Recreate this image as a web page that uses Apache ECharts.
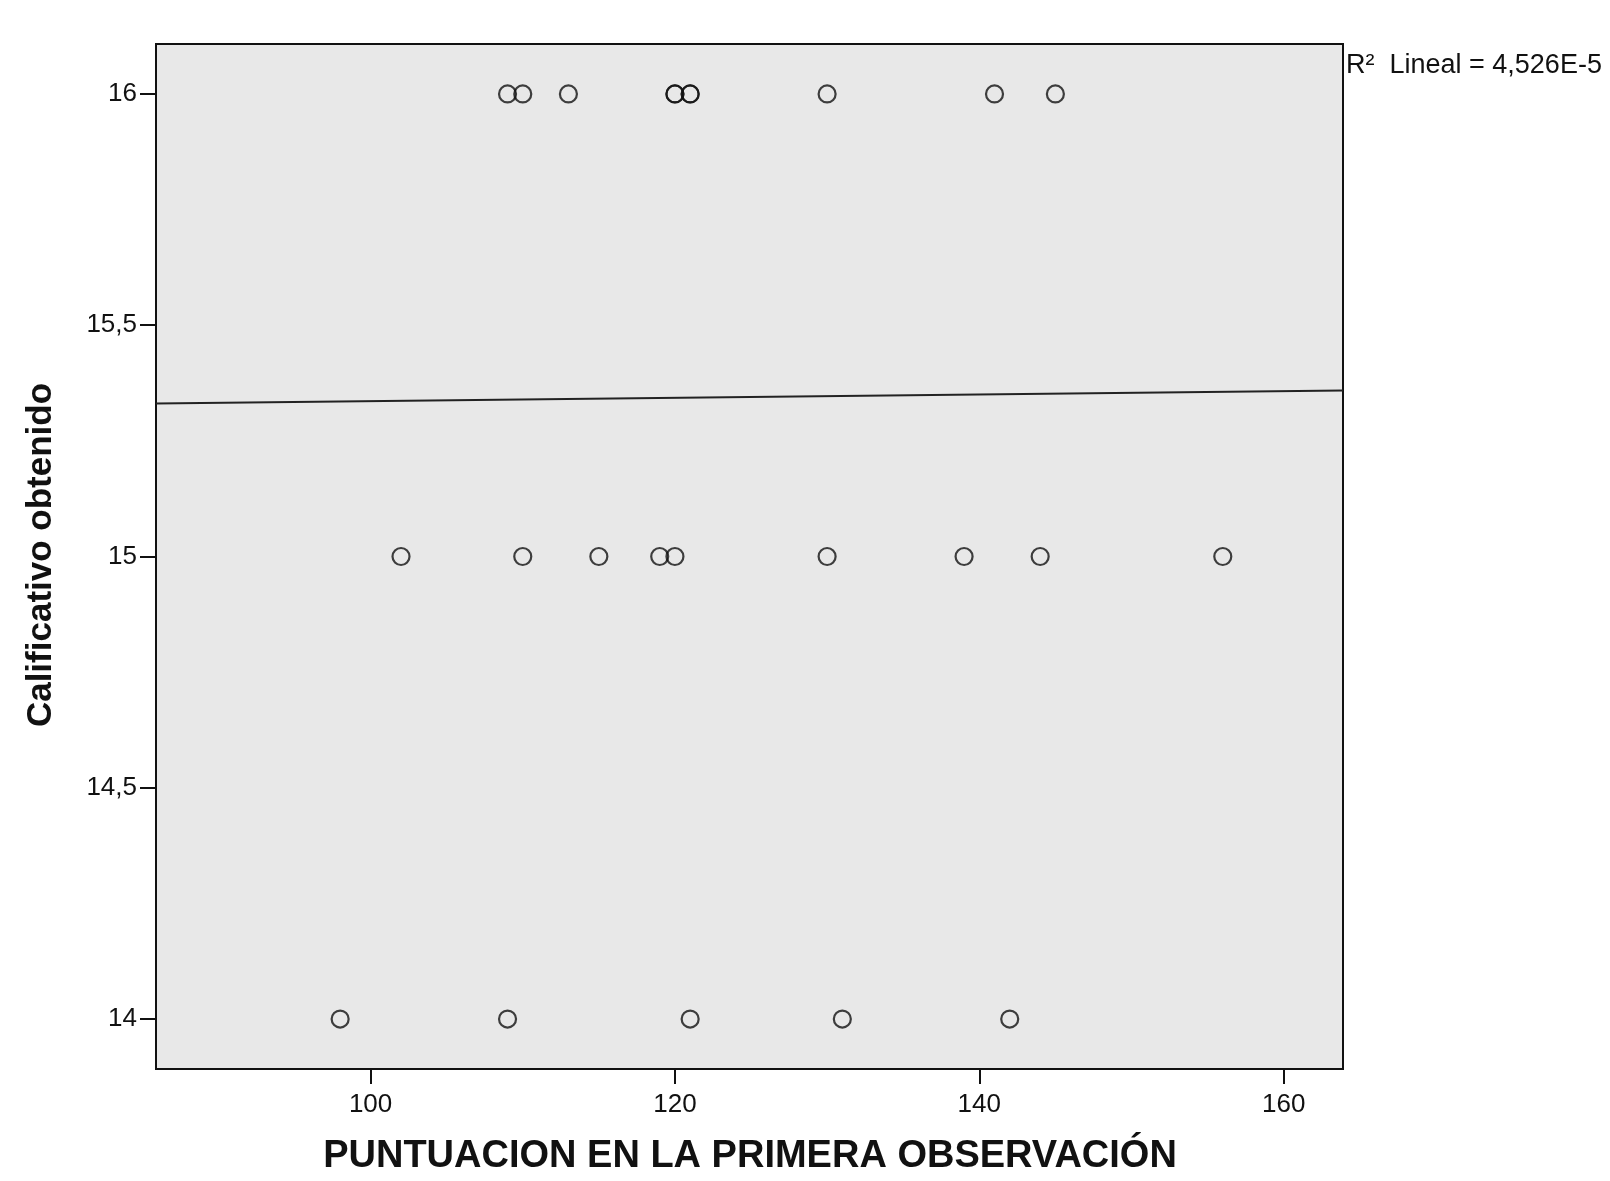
<!DOCTYPE html>
<html>
<head>
<meta charset="utf-8">
<script src="https://cdn.jsdelivr.net/npm/echarts@6/dist/echarts.min.js"></script>
<style>
html,body{margin:0;padding:0;background:#fff;}
#chart{width:1610px;height:1181px;}
</style>
</head>
<body>
<div id="chart"></div>
<script>
// Data (x: puntuación, y: calificativo)
const xGrade16 = [109, 110, 113, 120, 120, 121, 121, 130, 141, 145];
const xGrade15 = [102, 110, 115, 119, 120, 130, 139, 144, 156];
const xGrade14 = [98, 109, 121, 131, 142];
// Fit line endpoints
const fitX = [85.9, 163.9];
const fitY = [15.331, 15.359];
// Axis ticks
const xTicks = [100, 120, 140, 160];
const yTicks = [14, 14.5, 15, 15.5, 16];
const xRange = [85.9, 163.9];
const yRange = [13.892, 16.108];
const r2Text = 'R\u00B2  Lineal = 4,526E-5';
const xTitle = 'PUNTUACION EN LA PRIMERA OBSERVACIÓN';
const yTitle = 'Calificativo obtenido';

const points = []
  .concat(xGrade16.map(x => [x, 16]))
  .concat(xGrade15.map(x => [x, 15]))
  .concat(xGrade14.map(x => [x, 14]));

const chart = echarts.init(document.getElementById('chart'), null, {renderer: 'canvas'});
const font = 'Liberation Sans, Arial, sans-serif';
chart.setOption({
  animation: false,
  backgroundColor: '#ffffff',
  grid: {
    left: 156, right: 267, top: 44, bottom: 112,
    show: true, backgroundColor: '#e8e8e8', borderColor: '#111', borderWidth: 2
  },
  xAxis: {
    type: 'value', min: xRange[0], max: xRange[1],
    splitLine: {show: false},
    axisLine: {show: true, onZero: false, lineStyle: {color: '#111', width: 2}},
    axisTick: {show: true, inside: false, length: 15, customValues: xTicks, lineStyle: {color: '#111', width: 2}},
    axisLabel: {customValues: xTicks, margin: 23, color: '#111', fontSize: 26, fontFamily: font}
  },
  yAxis: {
    type: 'value', min: yRange[0], max: yRange[1],
    splitLine: {show: false},
    axisLine: {show: true, onZero: false, lineStyle: {color: '#111', width: 2}},
    axisTick: {show: true, inside: false, length: 16, customValues: yTicks, lineStyle: {color: '#111', width: 2}},
    axisLabel: {customValues: yTicks, margin: 19, color: '#111', fontSize: 26, fontFamily: font,
      formatter: v => String(v).replace('.', ',')}
  },
  series: [
    {
      type: 'line', data: fitX.map((x, i) => [x, fitY[i]]),
      symbol: 'none', lineStyle: {color: '#222', width: 2}, silent: true, z: 2
    },
    {
      type: 'scatter', data: points, symbol: 'circle', symbolSize: 17,
      itemStyle: {color: 'rgba(0,0,0,0)', borderColor: '#111', borderWidth: 2.2}, z: 3
    }
  ],
  graphic: [
    {type: 'text', left: 1346, top: 52, style: {text: r2Text, fontSize: 27, fontFamily: font, fill: '#111'}},
    {type: 'text', x: 750, y: 1157, style: {text: xTitle, fontSize: 38, fontWeight: 'bold', fontFamily: font, fill: '#111', align: 'center', verticalAlign: 'middle'}},
    {type: 'text', x: 41, y: 555, rotation: Math.PI / 2, style: {text: yTitle, fontSize: 35, fontWeight: 'bold', fontFamily: font, fill: '#111', align: 'center', verticalAlign: 'middle'}}
  ]
});
</script>
</body>
</html>
